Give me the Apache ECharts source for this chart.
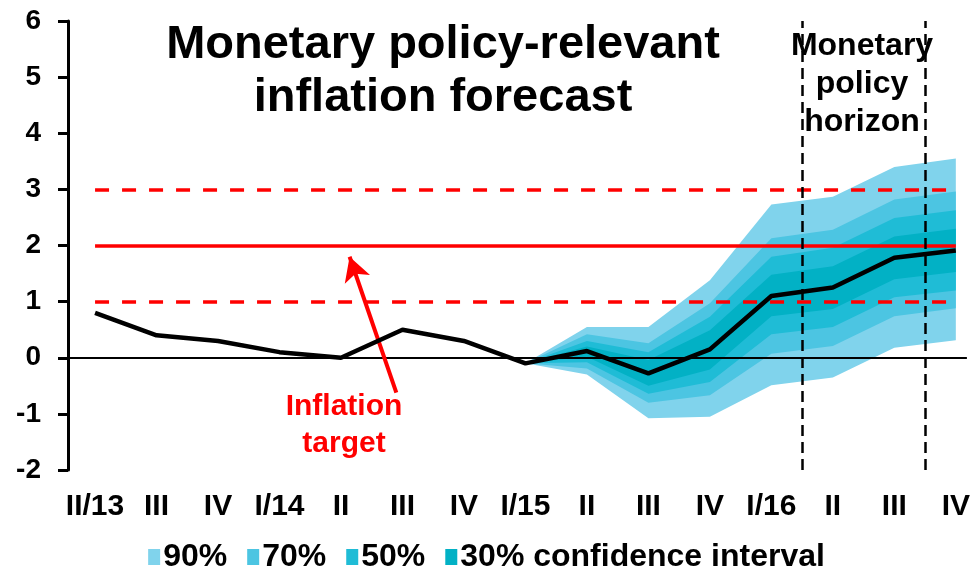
<!DOCTYPE html>
<html><head><meta charset="utf-8">
<script src="https://cdn.jsdelivr.net/npm/echarts@6/dist/echarts.min.js"></script>
<style>html,body{margin:0;padding:0;background:#fff}#c{width:973px;height:573px}</style>
</head><body><div id="c"></div>
<script>
// ---- data ----
const quarters = ['II/13','III','IV','I/14','II','III','IV','I/15','II','III','IV','I/16','II','III','IV'];
const inflation = [0.8, 0.4, 0.3, 0.1, 0.0, 0.5, 0.3, -0.1, 0.12, -0.28, 0.15, 1.1, 1.25, 1.78, 1.91];
const lower90 = [null,null,null,null,null,null,null, -0.1, -0.30, -1.08, -1.05, -0.49, -0.35, 0.18, 0.31];
const lower70 = [null,null,null,null,null,null,null, -0.1, -0.19, -0.80, -0.67,  0.07,  0.21, 0.74, 0.88];
const lower50 = [null,null,null,null,null,null,null, -0.1, -0.08, -0.64, -0.43,  0.42,  0.55, 1.08, 1.20];
const lower30 = [null,null,null,null,null,null,null, -0.1,  0.02, -0.50, -0.21,  0.74,  0.87, 1.40, 1.53];
const upper30 = [null,null,null,null,null,null,null, -0.1,  0.20, -0.04,  0.49,  1.48,  1.63, 2.16, 2.30];
const upper50 = [null,null,null,null,null,null,null, -0.1,  0.30,  0.10,  0.73,  1.80,  1.96, 2.49, 2.63];
const upper70 = [null,null,null,null,null,null,null, -0.1,  0.42,  0.26,  0.97,  2.13,  2.28, 2.82, 2.96];
const upper90 = [null,null,null,null,null,null,null, -0.1,  0.55,  0.55,  1.38,  2.73,  2.87, 3.40, 3.55];
const bandNames = ['90%', '70%', '50%', '30% confidence interval'];
const yMin = -2, yMax = 6, yStep = 1;
const inflationTarget = 2;
const toleranceBand = [1, 3];
const horizonBounds = [11.5, 13.5];
const arrowFrom = [4.9, -0.62];
const arrowTo = [4.14, 1.8];

// ---- styles ----
const FONT = '"Liberation Sans", Arial, sans-serif';
const bandColors = {'90%': '#80D3EC', '70%': '#4CC5E2', '50%': '#1FBCD6', '30% confidence interval': '#02B1C5'};

const pairs = arr => arr.map((v, i) => [i, v]);

function band(name, lo, hi) {
  const c = bandColors[name];
  const data = [];
  lo.forEach((v, i) => { if (v !== null && hi[i] !== null) data.push([i, v, hi[i]]); });
  return {
    name, type: 'custom', data, silent: true, z: 2,
    itemStyle: {color: c},
    encode: {x: 0, y: [1, 2]},
    renderItem: function (params, api) {
      if (params.dataIndex !== 0) return null;
      const top = [], bottom = [];
      for (let k = 0; k < data.length; k++) {
        top.push(api.coord([data[k][0], data[k][2]]));
        bottom.push(api.coord([data[k][0], data[k][1]]));
      }
      const pts = top.concat(bottom.reverse());
      return {type: 'polygon', shape: {points: pts}, style: {fill: c, stroke: null}};
    }
  };
}

const series = [
  band('90%', lower90, upper90),
  band('70%', lower70, upper70),
  band('50%', lower50, upper50),
  band('30% confidence interval', lower30, upper30),
  {
    name: 'Inflation', type: 'line', data: pairs(inflation), symbol: 'none', z: 5,
    lineStyle: {color: '#000', width: 4.5}, silent: true,
    markLine: {
      silent: true, symbol: 'none', label: {show: false}, animation: false,
      data: [
        {yAxis: 0, lineStyle: {color: '#000', width: 2, type: 'solid'}},
        [{coord: [0, inflationTarget]}, {coord: [quarters.length - 1, inflationTarget]}],
        [{coord: [0, toleranceBand[0]], lineStyle: {color: '#f00', width: 3.5, type: [14, 13]}},
         {coord: [quarters.length - 1, toleranceBand[0]]}],
        [{coord: [0, toleranceBand[1]], lineStyle: {color: '#f00', width: 3.5, type: [14, 13]}},
         {coord: [quarters.length - 1, toleranceBand[1]]}],
        {xAxis: horizonBounds[0], lineStyle: {color: '#000', width: 2.5, type: [11, 6]}},
        {xAxis: horizonBounds[1], lineStyle: {color: '#000', width: 2.5, type: [11, 6]}},
        [{coord: arrowFrom, symbol: 'none', lineStyle: {color: '#f00', width: 4, type: 'solid'}},
         {coord: arrowTo, symbol: 'arrow', symbolSize: [20, 24]}]
      ],
      lineStyle: {color: '#f00', width: 3.5, type: 'solid'}
    }
  }
];

const chart = echarts.init(document.getElementById('c'), null, {renderer: 'canvas'});
chart.setOption({
  animation: false,
  backgroundColor: '#fff',
  grid: {left: 68, right: 5, top: 21, bottom: 103, containLabel: false},
  xAxis: {
    type: 'value', min: -0.44, max: 14.18,
    axisLine: {show: false, onZero: false}, axisTick: {show: false}, splitLine: {show: false},
    axisLabel: {
      customValues: quarters.map((q, i) => i),
      formatter: v => quarters[Math.round(v)] || '',
      color: '#000', fontWeight: 'bold', fontSize: 30, fontFamily: FONT, margin: 22
    }
  },
  yAxis: {
    type: 'value', min: yMin, max: yMax, interval: yStep,
    axisLine: {show: true, onZero: false, lineStyle: {color: '#000', width: 3}},
    axisTick: {show: true, inside: false, length: 10, lineStyle: {color: '#000', width: 3}},
    splitLine: {show: false},
    axisLabel: {color: '#000', fontWeight: 'bold', fontSize: 28, fontFamily: FONT, margin: 27}
  },
  legend: {
    data: bandNames, bottom: -5, left: 'center', icon: 'rect',
    itemWidth: 12, itemHeight: 16, itemGap: 20, selectedMode: false,
    textStyle: {color: '#000', fontWeight: 'bold', fontSize: 32, fontFamily: FONT, padding: [0, 0, 0, -2]}
  },
  graphic: [
    {type: 'text', x: 443, y: 19, z: 10, style: {
      text: 'Monetary policy-relevant\ninflation forecast', textAlign: 'center',
      font: 'bold 47px ' + FONT, fill: '#000', lineHeight: 53}},
    {type: 'text', x: 862, y: 27, z: 10, style: {
      text: 'Monetary\npolicy\nhorizon', textAlign: 'center',
      font: 'bold 32px ' + FONT, fill: '#000', lineHeight: 38}},
    {type: 'text', x: 344, y: 388, z: 10, style: {
      text: 'Inflation\ntarget', textAlign: 'center',
      font: 'bold 30px ' + FONT, fill: '#f00', lineHeight: 37}}
  ],
  series
});
</script>
</body></html>
